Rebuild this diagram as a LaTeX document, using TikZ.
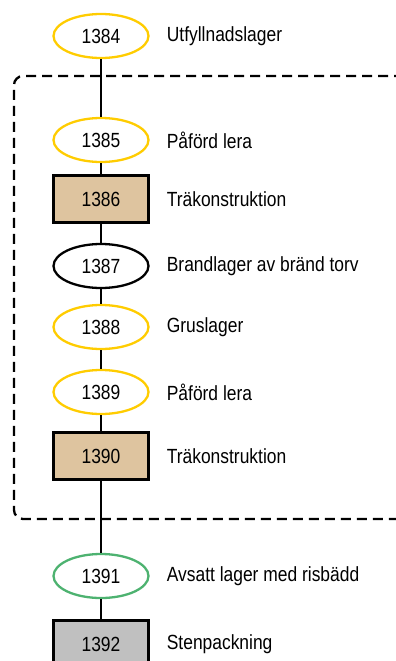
\documentclass[tikz,border=0pt]{standalone}
\usepackage{fontspec}
\setmainfont[FakeStretch=0.85]{Liberation Sans}
\usetikzlibrary{positioning, shapes.geometric}

\definecolor{layeryellow}{HTML}{FFCC00}
\definecolor{layergreen}{HTML}{4DB270}
\definecolor{woodtan}{HTML}{DEC49F}
\definecolor{stonegray}{HTML}{C0C0C0}

\begin{document}
\begin{tikzpicture}[
    x=1pt, y=1pt,
    node distance=17pt,
    font=\fontsize{20.5}{24}\selectfont,
    layer/.style={ellipse, draw=layeryellow, line width=2.3pt, minimum width=95pt, minimum height=44pt, inner sep=0pt},
    burnt/.style={layer, draw=black},
    deposit/.style={layer, draw=layergreen},
    wood/.style={rectangle, draw=black, line width=2.3pt, fill=woodtan, minimum width=95pt, minimum height=47pt, inner sep=0pt},
    stone/.style={wood, fill=stonegray},
    desc/.style={anchor=west, inner sep=0pt},
    link/.style={line width=2.3pt},
    group/.style={dashed, dash pattern=on 10pt off 6pt, line width=2.3pt, rounded corners=9pt}
]
    \useasboundingbox (0,0) rectangle (396,-661);

    % dashed group around the construction phases
    \draw[group] (420,-76) -- (14,-76) -- (14,-519) -- (420,-519);

    \node[layer] (n1384) at (101,-36) {1384};
    \node[layer] (n1385) at (101,-140) {1385};
    \node[wood] (n1386) at (101,-199) {1386};
    \node[burnt] (n1387) at (101,-266) {1387};
    \node[layer] (n1388) at (101,-327) {1388};
    \node[layer] (n1389) at (101,-392) {1389};
    \node[wood] (n1390) at (101,-456) {1390};
    \node[deposit] (n1391) at (101,-576) {1391};
    \node[stone] (n1392) at (101,-644) {1392};

    \node[desc, right=17pt of n1384] (d1384) {Utfyllnadslager};
    \node[desc, right=17pt of n1385] (d1385) {Påförd lera};
    \node[desc, right=17pt of n1386] (d1386) {Träkonstruktion};
    \node[desc, right=17pt of n1387] (d1387) {Brandlager av bränd torv};
    \node[desc, right=17pt of n1388] (d1388) {Gruslager};
    \node[desc, right=17pt of n1389] (d1389) {Påförd lera};
    \node[desc, right=17pt of n1390] (d1390) {Träkonstruktion};
    \node[desc, right=17pt of n1391] (d1391) {Avsatt lager med risbädd};
    \node[desc, right=17pt of n1392] (d1392) {Stenpackning};

    \foreach \a/\b in {1384/1385, 1385/1386, 1386/1387, 1387/1388, 1388/1389, 1389/1390, 1390/1391, 1391/1392}
        \draw[link] (n\a) -- (n\b);
\end{tikzpicture}
\end{document}
